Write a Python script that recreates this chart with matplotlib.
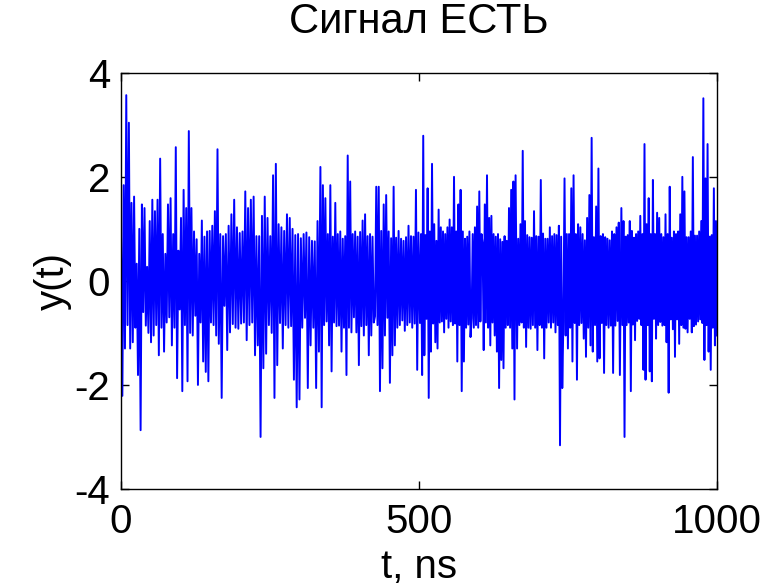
"""
Noisy received signal y(t) over a 1000 ns window (title: "Сигнал ЕСТЬ").
Values are read off the reference picture segment by segment.
"""
import matplotlib

matplotlib.use("Agg")
import matplotlib.pyplot as plt
import numpy as np

# time span (ns) covered by each segment of readings
seg_start = [0, 166.5, 334.5, 501.5, 664.5, 839.5]
seg_end = [164, 332, 499, 662, 837, 1000]

y_seg1 = [0.8, -2.21, 1.84, -1.30, 3.57, -0.85, 3.04, -1.30, 1.50, -1.18, 1.62, -0.9,
          0.33, -1.81, 1.0, -2.87, 1.47, -0.6, 1.40, -0.86, 0.27, -1.0, 1.15, -1.18,
          1.56, -1.05, 1.34, -0.85, 1.56, -1.43, 2.35, -0.9, 0.90, -1.36, 0.52, -0.8,
          1.47, -0.7, 1.59, -1.24, 0.90, -0.9, 2.57, -1.87, 0.58, -0.55, 1.21, -2.12,
          1.75, -0.85, 1.40, -1.93, 2.88, -1.0, 1.40, -1.05, 0.95, -0.67, 0.8, -2.0,
          0.52, -0.8, 1.16, -1.55, 0.85, -1.75, 0.95, -1.93, 0.96, -0.8, 1.06, -0.85,
          1.34, -1.05, 2.53, -1.21]
y_seg2 = [0.9, -2.25, 0.86, -0.48, 0.90, -1.33, 1.06, -0.99, 1.28, -0.83, 1.56, -0.9, 1.03,
          -0.92, 0.92, -0.82, 0.95, -0.8, 1.72, -1.14, 1.40, -0.85, 1.56, -0.8, 1.62,
          -1.43, 0.86, -1.24, 0.86, -3.00, 1.25, -1.68, 1.62, -1.40, 1.21, -0.85, 0.86,
          -1.0, 2.03, -2.25, 2.25, -1.62, 1.09, -0.81, 1.03, -1.30, 0.96, -0.85, 1.28,
          -0.9, 1.21, -0.87, 1.0, -1.90, 0.88, -2.43, 0.9, -2.28, 0.82, -0.9, 0.90,
          -0.71, 0.93, -2.06, 0.84, -1.24, 0.77, -0.9, 0.76, -2.06, 1.15, -1.36]
y_seg3 = [2.19, -2.43, 1.84, -0.85, 1.59, -0.78, 0.90, -1.24, 1.84, -1.74, 0.85, -0.8,
          1.50, -0.87, 0.9, -0.86, 0.95, -1.36, 0.81, -0.9, 0.86, -1.81, 2.41, -0.9,
          1.91, -0.99, 0.9, -0.70, 0.95, -0.99, 0.85, -1.62, 0.94, -0.87, 1.16, -1.05,
          1.28, -0.85, 0.86, -1.43, 0.90, -1.05, 0.85, -0.8, -0.68, 1.81, -0.85, 1.81,
          -2.12, 0.96, -1.68, 1.47, -1.05, 1.65, -0.71, 0.95, -1.96, 0.82, -1.43, 1.81,
          -1.24, 0.83, -0.9, 0.96, -0.85, 0.81, -0.76, 0.77, -0.96, 0.84, -0.85, 1.06,
          -0.8, 0.86, -0.9, 0.85, -0.82, 1.75, -1.71, 0.93]
y_seg4 = [-0.81, 0.9, -1.81, 2.79, -1.43, 0.88, -0.73, 1.78, -2.25, 0.95, -1.36, 2.25,
          -0.82, 1.09, -1.18, 0.77, -1.30, 1.37, -0.80, 1.03, -0.78, 0.95, -0.99, 0.9,
          -0.73, 1.03, -0.9, 1.18, -0.78, 1.03, -0.85, 2.00, -0.82, 0.95, -1.55, 1.47,
          -0.85, 1.75, -2.12, 0.95, -1.55, 0.81, -0.9, 0.85, -0.84, 0.95, -1.08, -0.72,
          0.90, -0.9, 1.03, -0.85, 1.43, -0.9, 1.72, -0.78, 0.9, 0.73, -1.33, 1.47,
          -0.8, 2.03, -0.9, 1.21, -1.24, 1.25, -0.80, 0.9, -1.05, 0.85, -1.36, 0.9,
          -2.06, 0.8, -1.52, 0.75, -1.68, 0.86, -0.9, 0.77, -0.85, 1.40, -0.9, 1.75,
          -1.30, 1.91, -2.28, 2.03]
y_seg5 = [-1.30, 0.81, -0.85, 1.09, -0.8, 2.50, -0.9, 1.15, -1.27, 0.88, -0.9, 0.84,
          -0.92, 0.83, -0.85, 1.34, -0.9, 0.86, -1.33, 0.85, -0.85, 1.94, -0.9, 0.91,
          -1.49, 0.81, -0.9, 0.81, -0.8, 1.03, -0.9, 0.86, -0.80, 0.9, -0.99, 0.88,
          -0.85, 1.06, -3.16, 0.85, -2.06, -0.77, 1.97, -1.05, 0.9, -1.30, 0.90, -0.9,
          1.78, -1.55, 2.03, -0.81, 0.9, -1.90, 1.09, -0.85, 1.03, -0.81, 0.90, -1.11,
          0.78, -1.46, 1.21, -0.9, 1.65, -1.24, 2.75, -1.36, 0.84, -0.85, 1.43, -1.55,
          2.16, -1.49, 0.86, -0.81, 0.9, -1.77, 0.84, -0.85, 0.81, -0.9, 0.78, -0.86,
          0.95, -1.77, 0.9, -0.86, 1.03, -0.77, 1.12, -1.81]
y_seg6 = [1.40, -0.85, 1.15, -3.00, 0.85, -0.85, 0.88, -0.8, 1.15, -2.12, 0.96, -0.84,
          0.83, -1.14, 0.9, -0.77, 0.95, -0.73, 1.25, -0.85, 0.9, -1.71, 2.63, -1.90,
          1.09, -0.85, 1.59, -1.74, 0.9, -1.93, 1.94, -0.73, 0.9, -1.11, 1.31, -0.85,
          1.21, -0.79, 0.9, -0.86, 0.84, -0.85, 1.28, -1.18, 0.9, -2.15, 1.81, -0.74,
          0.83, -0.93, 0.95, -1.46, 0.9, -0.74, 0.95, -1.21, 1.28, -0.85, 2.00, -0.9,
          1.72, -0.92, 0.84, -0.99, 0.84, -0.73, 0.95, -0.99, 2.38, -0.87, 0.87, -0.84,
          0.87, -0.78, 0.95, -0.74, 1.15, -0.81, 3.51, -1.52, 1.97, -0.85, 2.63, -1.36,
          0.85, -1.71, 0.88, -0.9, 1.78, -1.24, 1.15, -1.05]

x_ticks = [0, 500, 1000]
y_ticks = [-4, -2, 0, 2, 4]

segments = [y_seg1, y_seg2, y_seg3, y_seg4, y_seg5, y_seg6]
t = np.concatenate([np.linspace(a, b, len(s)) for a, b, s in zip(seg_start, seg_end, segments)])
y = np.concatenate([np.asarray(s, dtype=float) for s in segments])

plt.rcParams.update({
    "font.family": ["Liberation Sans", "DejaVu Sans"],
    "font.size": 29,
    "axes.unicode_minus": False,
})

fig = plt.figure(figsize=(7.76, 5.87), dpi=100)
ax = fig.add_axes([0.156, 0.167, 0.768, 0.709])
ax.plot(t, y, color="#0000ff", linewidth=1.4)
ax.set_xlim(0, 1000)
ax.set_ylim(-4, 4)
ax.set_xticks(x_ticks)
ax.set_yticks(y_ticks)
ax.tick_params(direction="in", top=True, right=True, length=6, width=1)
ax.tick_params(axis="x", pad=10)
ax.tick_params(axis="y", pad=8)
for sp in ax.spines.values():
    sp.set_linewidth(1.0)
ax.set_xlabel("t, ns", labelpad=5)
ax.set_ylabel("y(t)", labelpad=2)
ax.set_title("Сигнал ЕСТЬ", fontsize=30, pad=29)

fig.savefig("out.png", dpi=100)
